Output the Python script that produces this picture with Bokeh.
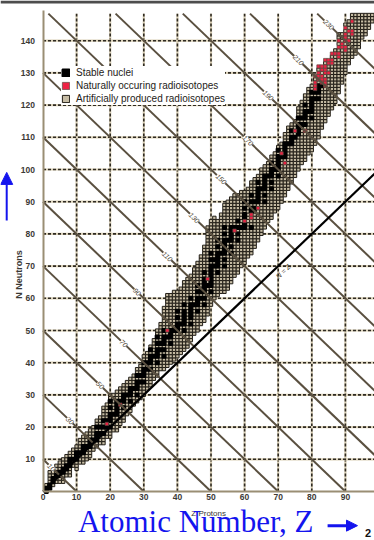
import math
from bokeh.plotting import figure
from bokeh.models import (Range1d, FixedTicker, Legend, LegendItem, Label, Arrow,
                          NormalHead, ColumnDataSource, LinearAxis, BoxAnnotation)
from bokeh.embed import file_html
from bokeh.resources import INLINE

# ---------------- data ----------------
Z_VALUES = list(range(1, 99))
N_MIN = [0, 1, 2, 3, 3, 3, 5, 5, 8, 7,
         9, 9, 10, 11, 13, 14, 15, 15, 17, 17,
         19, 19, 21, 22, 24, 25, 27, 28, 29, 30,
         32, 33, 35, 36, 38, 38, 39, 40, 41, 42,
         43, 44, 45, 47, 49, 50, 52, 53, 55, 58,
         60, 61, 62, 62, 63, 65, 67, 68, 70, 71,
         73, 74, 76, 78, 80, 82, 84, 85, 87, 88,
         90, 92, 94, 96, 98, 100, 102, 103, 105, 106,
         108, 110, 113, 115, 117, 119, 121, 124, 127, 130,
         133, 135, 136, 138, 141, 142, 144, 146]
N_MAX = [2, 6, 6, 8, 9, 10, 11, 12, 13, 14,
         16, 17, 18, 19, 20, 22, 23, 26, 27, 30,
         30, 31, 32, 33, 34, 35, 36, 38, 39, 42,
         43, 45, 47, 50, 52, 57, 61, 61, 62, 62,
         63, 65, 66, 67, 69, 71, 73, 76, 82, 84,
         85, 84, 86, 89, 90, 91, 92, 92, 93, 93,
         94, 96, 97, 98, 100, 101, 102, 104, 105, 107,
         108, 111, 113, 114, 115, 119, 121, 123, 125, 126,
         129, 132, 132, 134, 134, 136, 137, 142, 142, 145,
         146, 148, 148, 148, 148, 148, 148, 148]
STABLE_N = [
    [0, 1], [1, 2], [3, 4], [5], [5, 6], [6, 7], [7, 8], [8, 9, 10], [10], [10, 11, 12],
    [12], [12, 13, 14], [14], [14, 15, 16], [16], [16, 17, 18, 20], [18, 20], [18, 20, 22],
    [20, 22], [20, 22, 23, 24, 26, 28],
    [24], [24, 25, 26, 27, 28], [28], [26, 28, 29, 30], [30], [28, 30, 31, 32], [32],
    [30, 32, 33, 34, 36], [34, 36], [34, 36, 37, 38, 40],
    [38, 40], [38, 40, 41, 42, 44], [42], [40, 42, 43, 44, 46, 48], [44, 46],
    [42, 44, 46, 47, 48, 50], [48], [46, 48, 49, 50], [50], [50, 51, 52, 54, 56],
    [52], [50, 52, 53, 54, 55, 56, 58], [], [52, 54, 55, 56, 57, 58, 60], [58],
    [56, 58, 59, 60, 62, 64], [60, 62], [58, 60, 62, 63, 64, 65, 66, 68], [64],
    [62, 64, 65, 66, 67, 68, 69, 70, 72, 74],
    [70, 72], [68, 70, 71, 72, 73, 74, 76, 78], [74], [70, 72, 74, 75, 76, 77, 78, 80, 82],
    [78], [74, 76, 78, 79, 80, 81, 82], [82], [78, 80, 82, 84], [82], [82, 83, 85, 86, 88, 90],
    [], [82, 87, 88, 90, 92], [88, 90], [90, 91, 92, 93, 94, 96], [94],
    [90, 92, 94, 95, 96, 97, 98], [98], [94, 96, 98, 99, 100, 102], [100],
    [98, 100, 101, 102, 103, 104, 106],
    [104], [104, 105, 106, 107, 108], [108], [108, 109, 110, 112], [110],
    [111, 112, 113, 114, 116], [114, 116], [114, 116, 117, 118, 120], [118],
    [116, 118, 119, 120, 121, 122, 124],
    [122, 124], [122, 124, 125, 126], [126], [], [], [], [], [], [], [],
    [], [], [], [], [], [], [], []]
NATURAL_Z = [19, 23, 37, 49, 57, 60, 62, 62, 64, 71, 72, 75, 78,
             81, 81, 81, 81, 82, 82, 82, 82, 83, 83, 83, 83, 83,
             84, 84, 84, 84, 84, 84, 84, 85, 85, 85, 86, 86, 86, 87,
             88, 88, 88, 88, 89, 89, 90, 90, 90, 90, 90, 90, 91, 91, 92, 92, 92]
NATURAL_N = [21, 27, 50, 66, 81, 84, 85, 86, 88, 105, 102, 112, 112,
             125, 126, 127, 129, 128, 129, 130, 132, 127, 128, 129, 131, 132,
             126, 127, 128, 130, 131, 132, 134, 130, 133, 134, 133, 134, 136, 136,
             135, 136, 138, 140, 138, 139, 137, 138, 140, 141, 142, 144, 140, 143, 142, 143, 146]
ISOBAR_A = [10, 30, 50, 70, 90, 110, 130, 150, 170, 190, 210, 230]
ISOBAR_LABEL_Z = [2.5, 8, 17, 24, 28, 37, 45, 53, 61, 67, 76, 85]
X_TICKS = [0, 10, 20, 30, 40, 50, 60, 70, 80, 90, 100]
Y_TICKS = [10, 20, 30, 40, 50, 60, 70, 80, 90, 100, 110, 120, 130, 140]
LEGEND_LABELS = ["Stable nuclei", "Naturally occuring radioisotopes",
                 "Artificially produced radioisotopes"]
Z_LIMIT = 100      # extent of the proton axis
N_LIMIT = 148.4    # top of the neutron axis

# ---------------- build cell tables ----------------
stable_pairs = set()
for z, ns in zip(Z_VALUES, STABLE_N):
    for n in ns:
        stable_pairs.add((z, n))
natural_pairs = set(zip(NATURAL_Z, NATURAL_N))

art_z, art_n = [], []
for z, lo, hi in zip(Z_VALUES, N_MIN, N_MAX):
    for n in range(lo, hi + 1):
        if (z, n) not in stable_pairs and (z, n) not in natural_pairs:
            art_z.append(z)
            art_n.append(n)
st_sorted = sorted(stable_pairs)
st_z = [zn[0] for zn in st_sorted]
st_n = [zn[1] for zn in st_sorted]

src_art = ColumnDataSource(dict(z=art_z, n=art_n))
src_st = ColumnDataSource(dict(z=st_z, n=st_n))
src_nat = ColumnDataSource(dict(z=NATURAL_Z, n=NATURAL_N))
src_iso = ColumnDataSource(dict(
    x0=[max(0, a - N_LIMIT) for a in ISOBAR_A],
    y0=[min(a, N_LIMIT) for a in ISOBAR_A],
    x1=ISOBAR_A, y1=[0] * len(ISOBAR_A)))
vgrid = X_TICKS[1:]
src_vgrid = ColumnDataSource(dict(x0=vgrid, y0=[0] * len(vgrid), x1=vgrid,
                                  y1=[N_LIMIT] * len(vgrid)))
src_hgrid = ColumnDataSource(dict(x0=[0] * len(Y_TICKS), y0=Y_TICKS,
                                  x1=[Z_LIMIT] * len(Y_TICKS), y1=Y_TICKS))

# ---------------- figure (frame = whole canvas, axes fixed at 0) ----------------
PX_X = 3.36   # pixels per proton
PX_Y = 3.22   # pixels per neutron
W, H = 374, 540
X0_PX, Y0_PX = 42.5, 491.0   # where Z=0 / N=0 sit on the canvas
x_start = -X0_PX / PX_X
y_start = -(H - Y0_PX) / PX_Y
p = figure(width=W, height=H, output_backend="svg", toolbar_location=None,
           x_range=Range1d(x_start, x_start + W / PX_X),
           y_range=Range1d(y_start, y_start + H / PX_Y),
           x_axis_location=None, y_axis_location=None,
           min_border=0, min_border_left=0, min_border_right=0,
           min_border_top=0, min_border_bottom=0)
p.outline_line_color = None
p.background_fill_color = "white"
p.border_fill_color = "white"
for g in p.grid:
    g.visible = False

xaxis = LinearAxis(fixed_location=0, ticker=FixedTicker(ticks=X_TICKS), bounds=(0, Z_LIMIT))
yaxis = LinearAxis(fixed_location=0, ticker=FixedTicker(ticks=Y_TICKS), bounds=(0, 149.5))
for ax in (xaxis, yaxis):
    ax.axis_line_color = "#9a8e74"
    ax.axis_line_width = 2
    ax.major_tick_line_color = None
    ax.minor_tick_line_color = None
    ax.major_tick_out = 0
    ax.major_tick_in = 0
    ax.major_label_text_font = "Liberation Sans"
    ax.major_label_text_font_size = "8.5px"
    ax.major_label_text_font_style = "bold"
    ax.major_label_text_color = "#3c3a36"
yaxis.major_label_standoff = 8
xaxis.major_label_standoff = 2
p.add_layout(xaxis, "below")
p.add_layout(yaxis, "left")

# grid lines: tan underlay + dark dashes
for src in (src_vgrid, src_hgrid):
    p.segment(x0="x0", y0="y0", x1="x1", y1="y1", source=src,
              line_color="#d9cfb6", line_width=2.2)
    p.segment(x0="x0", y0="y0", x1="x1", y1="y1", source=src,
              line_color="#2e2a22", line_width=1.6, line_dash="3 2")

# nuclide cells
r_art = p.rect(x="z", y="n", width=1, height=1, source=src_art,
               fill_color="#c6bca4", line_color="#221e17", line_width=1.0)
r_st = p.rect(x="z", y="n", width=1, height=1, source=src_st,
              fill_color="#000000", line_color="#000000", line_width=1.8)
r_nat = p.rect(x="z", y="n", width=1, height=1, source=src_nat,
               fill_color="#ee2244", line_color="#5a4a40", line_width=0.7)

# isobars and N = Z line
p.segment(x0="x0", y0="y0", x1="x1", y1="y1", source=src_iso,
          line_color="#5a5040", line_width=2)
p.line(x=[0, Z_LIMIT], y=[0, Z_LIMIT], line_color="#000000", line_width=2.2)

iso_angle = -math.atan(PX_Y / PX_X)
for a, zl in zip(ISOBAR_A, ISOBAR_LABEL_Z):
    p.add_layout(Label(x=zl, y=a - zl, text=str(a), angle=iso_angle,
                       text_align="center", text_baseline="middle",
                       text_font="Liberation Sans", text_font_size="7px",
                       text_font_style="italic", text_color="#4a4232",
                       background_fill_color="white"))
p.add_layout(Label(x=71.5, y=68.3, text="N = Z", angle=-iso_angle,
                   text_align="center", text_baseline="middle",
                   text_font="Liberation Sans", text_font_size="7px",
                   text_font_style="italic", text_color="#4a4232"))

legend = Legend(items=[LegendItem(label=LEGEND_LABELS[0], renderers=[r_st]),
                       LegendItem(label=LEGEND_LABELS[1], renderers=[r_nat]),
                       LegendItem(label=LEGEND_LABELS[2], renderers=[r_art])],
                location=(61, 435.5), orientation="vertical",
                label_text_font="Liberation Sans", label_text_font_size="10px",
                label_text_color="#1e1c18", label_height=13, glyph_height=9, glyph_width=9,
                label_standoff=6, spacing=0, padding=4, margin=0,
                background_fill_color="white", background_fill_alpha=1.0,
                border_line_color=None)
p.add_layout(legend)

# slide frame strip at top
p.add_layout(BoxAnnotation(bottom=y_start + (H - 3) / PX_Y, fill_color="#4d4d4d",
                           fill_alpha=1.0, line_color=None))

# axis titles
p.add_layout(Label(x=-7.2, y=67.4, text="N Neutrons", angle=math.pi / 2,
                   text_align="center", text_baseline="middle",
                   text_font="Liberation Sans", text_font_size="9px",
                   text_font_style="bold", text_color="#3a3834"))
p.add_layout(Label(x=49.3, y=-6.8, text="Z Protons", text_align="center",
                   text_baseline="middle", text_font="Liberation Sans",
                   text_font_size="8px", text_color="#3a3834"))

# blue slide annotations
BLUE = "#1414ee"
p.add_layout(Label(x=10.4, y=-9.3, text="Atomic Number, Z", text_align="left",
                   text_baseline="middle", text_font="Liberation Serif",
                   text_font_size="31px", text_color=BLUE))
p.add_layout(Arrow(end=NormalHead(size=11, fill_color=BLUE, line_color=BLUE),
                   x_start=84.7, y_start=-10.6, x_end=93.6, y_end=-10.6,
                   line_color=BLUE, line_width=3))
p.add_layout(Arrow(end=NormalHead(size=12, fill_color=BLUE, line_color=BLUE),
                   x_start=-10.8, y_start=84.2, x_end=-10.8, y_end=99.1,
                   line_color=BLUE, line_width=2))
p.add_layout(Label(x=95.8, y=-12.9, text="2", text_align="left",
                   text_baseline="middle", text_font="Liberation Sans",
                   text_font_size="11px", text_font_style="bold", text_color="#111111"))

open("out.html", "w").write(file_html(p, INLINE))
